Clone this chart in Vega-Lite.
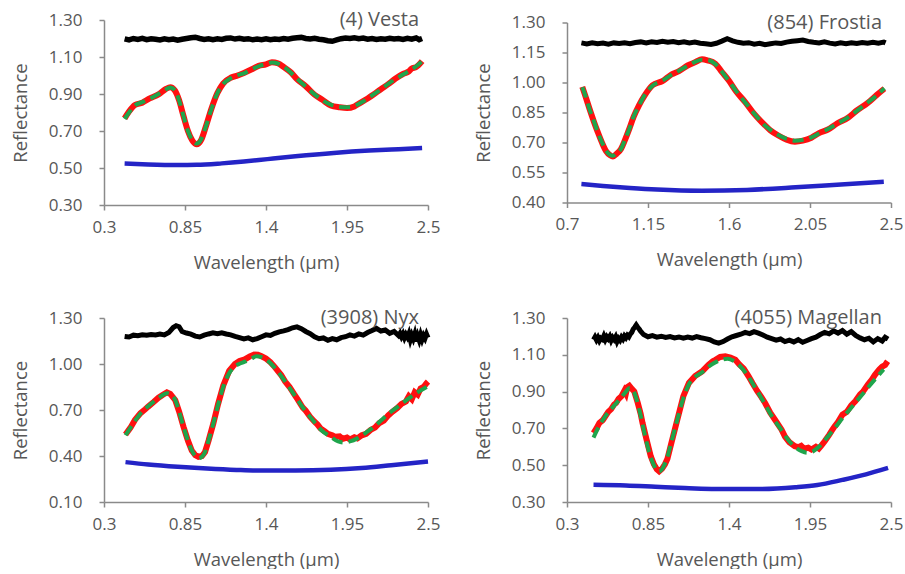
{
  "$schema": "https://vega.github.io/schema/vega-lite/v6.json",
  "background": "white",
  "padding": {"left": 11, "top": 10, "right": 0, "bottom": 0},
  "columns": 2,
  "bounds": "flush",
  "center": true,
  "spacing": {"row": 113, "column": 139},
  "config": {
    "font": "Open Sans",
    "view": {"stroke": null},
    "axis": {
      "grid": false,
      "domainColor": "#8a8a8a",
      "domainWidth": 1.5,
      "tickColor": "#8a8a8a",
      "tickWidth": 1.5,
      "tickSize": 5,
      "labelFont": "Open Sans",
      "labelFontSize": 17,
      "labelColor": "#575757",
      "labelFlush": false,
      "labelOverlap": false,
      "labelExpr": "'' + datum.value",
      "titleFont": "Open Sans",
      "titleFontSize": 18.5,
      "titleFontWeight": "normal",
      "titleColor": "#575757"
    },
    "axisX": {"labelPadding": 9, "titlePadding": 18},
    "axisY": {"labelPadding": 17, "titlePadding": 18},
    "title": {"font": "Open Sans", "fontSize": 20, "fontWeight": "normal", "color": "#575757", "anchor": "end", "frame": "group", "offset": -19, "dx": -9}
  },
  "datasets": {
    "vesta_cont": [
      {"x": 0.44, "y": 0.524}, {"x": 0.6, "y": 0.519}, {"x": 0.8, "y": 0.516}, {"x": 0.93, "y": 0.517},
      {"x": 1.1, "y": 0.525}, {"x": 1.25, "y": 0.535}, {"x": 1.41, "y": 0.548}, {"x": 1.6, "y": 0.563},
      {"x": 1.86, "y": 0.581}, {"x": 2.1, "y": 0.594}, {"x": 2.3, "y": 0.602}, {"x": 2.46, "y": 0.608}
    ],
    "vesta_obs": [
      {"x": 0.44, "y": 0.768}, {"x": 0.47, "y": 0.805}, {"x": 0.51, "y": 0.840}, {"x": 0.56, "y": 0.853},
      {"x": 0.61, "y": 0.876}, {"x": 0.67, "y": 0.898}, {"x": 0.72, "y": 0.927}, {"x": 0.75, "y": 0.937},
      {"x": 0.78, "y": 0.920}, {"x": 0.81, "y": 0.866}, {"x": 0.84, "y": 0.780}, {"x": 0.87, "y": 0.700},
      {"x": 0.9, "y": 0.648}, {"x": 0.93, "y": 0.628}, {"x": 0.96, "y": 0.652}, {"x": 0.99, "y": 0.720},
      {"x": 1.03, "y": 0.822}, {"x": 1.07, "y": 0.905}, {"x": 1.11, "y": 0.958}, {"x": 1.16, "y": 0.988},
      {"x": 1.2, "y": 0.998}, {"x": 1.25, "y": 1.014}, {"x": 1.3, "y": 1.032}, {"x": 1.35, "y": 1.052},
      {"x": 1.4, "y": 1.060}, {"x": 1.44, "y": 1.072}, {"x": 1.48, "y": 1.066}, {"x": 1.52, "y": 1.046},
      {"x": 1.57, "y": 1.016}, {"x": 1.61, "y": 0.981}, {"x": 1.67, "y": 0.942}, {"x": 1.73, "y": 0.896},
      {"x": 1.78, "y": 0.870}, {"x": 1.84, "y": 0.838}, {"x": 1.9, "y": 0.828}, {"x": 1.95, "y": 0.824},
      {"x": 2.0, "y": 0.833}, {"x": 2.04, "y": 0.852}, {"x": 2.09, "y": 0.876}, {"x": 2.13, "y": 0.897},
      {"x": 2.18, "y": 0.926}, {"x": 2.23, "y": 0.953}, {"x": 2.28, "y": 0.984}, {"x": 2.33, "y": 1.008},
      {"x": 2.37, "y": 1.022}, {"x": 2.39, "y": 1.038}, {"x": 2.42, "y": 1.046}, {"x": 2.46, "y": 1.078}
    ],
    "vesta_fit": [
      {"x": 0.44, "y": 0.766}, {"x": 0.47, "y": 0.80}, {"x": 0.51, "y": 0.838}, {"x": 0.56, "y": 0.856},
      {"x": 0.61, "y": 0.874}, {"x": 0.67, "y": 0.900}, {"x": 0.72, "y": 0.925}, {"x": 0.75, "y": 0.935},
      {"x": 0.78, "y": 0.922}, {"x": 0.81, "y": 0.865}, {"x": 0.84, "y": 0.78}, {"x": 0.87, "y": 0.70},
      {"x": 0.9, "y": 0.65}, {"x": 0.93, "y": 0.632}, {"x": 0.96, "y": 0.655}, {"x": 0.99, "y": 0.72},
      {"x": 1.03, "y": 0.82}, {"x": 1.07, "y": 0.905}, {"x": 1.11, "y": 0.955}, {"x": 1.16, "y": 0.985},
      {"x": 1.2, "y": 1.0}, {"x": 1.25, "y": 1.012}, {"x": 1.3, "y": 1.032}, {"x": 1.35, "y": 1.05},
      {"x": 1.4, "y": 1.062}, {"x": 1.44, "y": 1.07}, {"x": 1.48, "y": 1.065}, {"x": 1.52, "y": 1.048},
      {"x": 1.57, "y": 1.015}, {"x": 1.61, "y": 0.983}, {"x": 1.67, "y": 0.94}, {"x": 1.73, "y": 0.898},
      {"x": 1.78, "y": 0.868}, {"x": 1.84, "y": 0.842}, {"x": 1.9, "y": 0.83}, {"x": 1.95, "y": 0.828},
      {"x": 2.0, "y": 0.835}, {"x": 2.04, "y": 0.851}, {"x": 2.09, "y": 0.875}, {"x": 2.13, "y": 0.898},
      {"x": 2.18, "y": 0.925}, {"x": 2.23, "y": 0.955}, {"x": 2.28, "y": 0.982}, {"x": 2.33, "y": 1.005},
      {"x": 2.38, "y": 1.028}, {"x": 2.42, "y": 1.05}, {"x": 2.46, "y": 1.077}
    ],
    "vesta_resid": [
      {"x": 0.44, "y": 1.198}, {"x": 0.47, "y": 1.192}, {"x": 0.5, "y": 1.2}, {"x": 0.53, "y": 1.195},
      {"x": 0.56, "y": 1.201}, {"x": 0.59, "y": 1.194}, {"x": 0.62, "y": 1.199}, {"x": 0.65, "y": 1.196},
      {"x": 0.68, "y": 1.192}, {"x": 0.71, "y": 1.198}, {"x": 0.74, "y": 1.193}, {"x": 0.77, "y": 1.197},
      {"x": 0.8, "y": 1.191}, {"x": 0.83, "y": 1.196}, {"x": 0.86, "y": 1.2}, {"x": 0.89, "y": 1.204},
      {"x": 0.92, "y": 1.207}, {"x": 0.95, "y": 1.2}, {"x": 0.98, "y": 1.195}, {"x": 1.01, "y": 1.199},
      {"x": 1.04, "y": 1.194}, {"x": 1.07, "y": 1.198}, {"x": 1.1, "y": 1.195}, {"x": 1.13, "y": 1.201},
      {"x": 1.16, "y": 1.203}, {"x": 1.19, "y": 1.197}, {"x": 1.22, "y": 1.201}, {"x": 1.25, "y": 1.196},
      {"x": 1.28, "y": 1.199}, {"x": 1.31, "y": 1.193}, {"x": 1.34, "y": 1.197}, {"x": 1.37, "y": 1.194},
      {"x": 1.4, "y": 1.198}, {"x": 1.43, "y": 1.193}, {"x": 1.46, "y": 1.197}, {"x": 1.49, "y": 1.195},
      {"x": 1.52, "y": 1.2}, {"x": 1.55, "y": 1.196}, {"x": 1.58, "y": 1.201}, {"x": 1.61, "y": 1.204},
      {"x": 1.64, "y": 1.206}, {"x": 1.67, "y": 1.2}, {"x": 1.7, "y": 1.197}, {"x": 1.73, "y": 1.201},
      {"x": 1.76, "y": 1.196}, {"x": 1.79, "y": 1.193}, {"x": 1.82, "y": 1.188}, {"x": 1.85, "y": 1.185},
      {"x": 1.88, "y": 1.192}, {"x": 1.91, "y": 1.199}, {"x": 1.94, "y": 1.203}, {"x": 1.97, "y": 1.2},
      {"x": 2.0, "y": 1.204}, {"x": 2.03, "y": 1.199}, {"x": 2.06, "y": 1.202}, {"x": 2.09, "y": 1.196},
      {"x": 2.12, "y": 1.2}, {"x": 2.15, "y": 1.195}, {"x": 2.18, "y": 1.199}, {"x": 2.21, "y": 1.196},
      {"x": 2.24, "y": 1.201}, {"x": 2.27, "y": 1.197}, {"x": 2.3, "y": 1.2}, {"x": 2.33, "y": 1.195},
      {"x": 2.36, "y": 1.201}, {"x": 2.39, "y": 1.196}, {"x": 2.42, "y": 1.203}, {"x": 2.44, "y": 1.194},
      {"x": 2.46, "y": 1.2}
    ],
    "frostia_cont": [
      {"x": 0.78, "y": 0.492}, {"x": 0.9, "y": 0.483}, {"x": 1.05, "y": 0.473}, {"x": 1.2, "y": 0.465},
      {"x": 1.45, "y": 0.459}, {"x": 1.7, "y": 0.463}, {"x": 1.97, "y": 0.476}, {"x": 2.2, "y": 0.489},
      {"x": 2.46, "y": 0.504}
    ],
    "frostia_obs": [
      {"x": 0.785, "y": 0.978}, {"x": 0.8, "y": 0.938}, {"x": 0.825, "y": 0.869}, {"x": 0.85, "y": 0.803},
      {"x": 0.871, "y": 0.752}, {"x": 0.895, "y": 0.698}, {"x": 0.917, "y": 0.657}, {"x": 0.94, "y": 0.636},
      {"x": 0.955, "y": 0.630}, {"x": 0.975, "y": 0.643}, {"x": 1.0, "y": 0.668}, {"x": 1.02, "y": 0.708},
      {"x": 1.046, "y": 0.768}, {"x": 1.07, "y": 0.828}, {"x": 1.1, "y": 0.886}, {"x": 1.13, "y": 0.933},
      {"x": 1.175, "y": 0.986}, {"x": 1.23, "y": 1.007}, {"x": 1.28, "y": 1.040}, {"x": 1.322, "y": 1.057},
      {"x": 1.37, "y": 1.085}, {"x": 1.414, "y": 1.102}, {"x": 1.45, "y": 1.116}, {"x": 1.48, "y": 1.111},
      {"x": 1.524, "y": 1.094}, {"x": 1.56, "y": 1.053}, {"x": 1.598, "y": 1.011}, {"x": 1.64, "y": 0.955},
      {"x": 1.69, "y": 0.902}, {"x": 1.74, "y": 0.843}, {"x": 1.782, "y": 0.802}, {"x": 1.83, "y": 0.761},
      {"x": 1.874, "y": 0.735}, {"x": 1.92, "y": 0.714}, {"x": 1.966, "y": 0.704}, {"x": 2.01, "y": 0.709},
      {"x": 2.058, "y": 0.724}, {"x": 2.1, "y": 0.747}, {"x": 2.15, "y": 0.765}, {"x": 2.2, "y": 0.795},
      {"x": 2.261, "y": 0.824}, {"x": 2.31, "y": 0.860}, {"x": 2.371, "y": 0.898}, {"x": 2.42, "y": 0.937},
      {"x": 2.463, "y": 0.969}
    ],
    "frostia_fit": [
      {"x": 0.785, "y": 0.976}, {"x": 0.8, "y": 0.94}, {"x": 0.825, "y": 0.867}, {"x": 0.85, "y": 0.805},
      {"x": 0.871, "y": 0.751}, {"x": 0.895, "y": 0.7}, {"x": 0.917, "y": 0.659}, {"x": 0.94, "y": 0.638},
      {"x": 0.955, "y": 0.634}, {"x": 0.975, "y": 0.645}, {"x": 1.0, "y": 0.667}, {"x": 1.02, "y": 0.71},
      {"x": 1.046, "y": 0.767}, {"x": 1.07, "y": 0.83}, {"x": 1.1, "y": 0.884}, {"x": 1.13, "y": 0.935},
      {"x": 1.175, "y": 0.984}, {"x": 1.23, "y": 1.009}, {"x": 1.28, "y": 1.038}, {"x": 1.322, "y": 1.059},
      {"x": 1.37, "y": 1.083}, {"x": 1.414, "y": 1.104}, {"x": 1.45, "y": 1.114}, {"x": 1.48, "y": 1.113},
      {"x": 1.524, "y": 1.092}, {"x": 1.56, "y": 1.055}, {"x": 1.598, "y": 1.009}, {"x": 1.64, "y": 0.957},
      {"x": 1.69, "y": 0.9}, {"x": 1.74, "y": 0.845}, {"x": 1.782, "y": 0.8}, {"x": 1.83, "y": 0.763},
      {"x": 1.874, "y": 0.737}, {"x": 1.92, "y": 0.718}, {"x": 1.966, "y": 0.709}, {"x": 2.01, "y": 0.713},
      {"x": 2.058, "y": 0.726}, {"x": 2.1, "y": 0.745}, {"x": 2.15, "y": 0.767}, {"x": 2.2, "y": 0.793},
      {"x": 2.261, "y": 0.826}, {"x": 2.31, "y": 0.858}, {"x": 2.371, "y": 0.9}, {"x": 2.42, "y": 0.935},
      {"x": 2.463, "y": 0.971}
    ],
    "frostia_resid": [
      {"x": 0.78, "y": 1.198}, {"x": 0.81, "y": 1.193}, {"x": 0.84, "y": 1.199}, {"x": 0.87, "y": 1.194},
      {"x": 0.9, "y": 1.197}, {"x": 0.93, "y": 1.192}, {"x": 0.96, "y": 1.198}, {"x": 0.99, "y": 1.195},
      {"x": 1.02, "y": 1.199}, {"x": 1.05, "y": 1.194}, {"x": 1.08, "y": 1.2}, {"x": 1.11, "y": 1.203},
      {"x": 1.14, "y": 1.198}, {"x": 1.17, "y": 1.204}, {"x": 1.2, "y": 1.2}, {"x": 1.23, "y": 1.206},
      {"x": 1.26, "y": 1.201}, {"x": 1.29, "y": 1.205}, {"x": 1.32, "y": 1.199}, {"x": 1.35, "y": 1.204},
      {"x": 1.38, "y": 1.198}, {"x": 1.41, "y": 1.202}, {"x": 1.44, "y": 1.196}, {"x": 1.47, "y": 1.194},
      {"x": 1.5, "y": 1.19}, {"x": 1.53, "y": 1.196}, {"x": 1.56, "y": 1.207}, {"x": 1.59, "y": 1.219},
      {"x": 1.62, "y": 1.208}, {"x": 1.65, "y": 1.201}, {"x": 1.68, "y": 1.196}, {"x": 1.71, "y": 1.199},
      {"x": 1.74, "y": 1.192}, {"x": 1.77, "y": 1.196}, {"x": 1.8, "y": 1.189}, {"x": 1.83, "y": 1.194},
      {"x": 1.86, "y": 1.198}, {"x": 1.89, "y": 1.195}, {"x": 1.92, "y": 1.202}, {"x": 1.95, "y": 1.206},
      {"x": 1.98, "y": 1.209}, {"x": 2.01, "y": 1.212}, {"x": 2.04, "y": 1.205}, {"x": 2.07, "y": 1.201},
      {"x": 2.1, "y": 1.198}, {"x": 2.13, "y": 1.203}, {"x": 2.16, "y": 1.197}, {"x": 2.19, "y": 1.193},
      {"x": 2.22, "y": 1.198}, {"x": 2.25, "y": 1.194}, {"x": 2.28, "y": 1.199}, {"x": 2.31, "y": 1.195},
      {"x": 2.34, "y": 1.2}, {"x": 2.37, "y": 1.196}, {"x": 2.4, "y": 1.201}, {"x": 2.43, "y": 1.197},
      {"x": 2.46, "y": 1.202}, {"x": 2.47, "y": 1.198}
    ],
    "nyx_cont": [
      {"x": 0.446, "y": 0.36}, {"x": 0.6, "y": 0.345}, {"x": 0.8, "y": 0.33}, {"x": 1.0, "y": 0.318},
      {"x": 1.2, "y": 0.309}, {"x": 1.35, "y": 0.305}, {"x": 1.6, "y": 0.305}, {"x": 1.84, "y": 0.31},
      {"x": 2.05, "y": 0.322}, {"x": 2.25, "y": 0.34}, {"x": 2.5, "y": 0.364}
    ],
    "nyx_obs": [
      {"x": 0.446, "y": 0.54}, {"x": 0.48, "y": 0.585}, {"x": 0.51, "y": 0.635}, {"x": 0.548, "y": 0.68},
      {"x": 0.58, "y": 0.705}, {"x": 0.6, "y": 0.722}, {"x": 0.637, "y": 0.752}, {"x": 0.67, "y": 0.78},
      {"x": 0.7, "y": 0.8}, {"x": 0.727, "y": 0.815}, {"x": 0.75, "y": 0.805}, {"x": 0.784, "y": 0.764},
      {"x": 0.81, "y": 0.69}, {"x": 0.84, "y": 0.59}, {"x": 0.87, "y": 0.5}, {"x": 0.896, "y": 0.436},
      {"x": 0.92, "y": 0.405}, {"x": 0.941, "y": 0.395}, {"x": 0.965, "y": 0.4}, {"x": 0.986, "y": 0.426},
      {"x": 1.01, "y": 0.5}, {"x": 1.042, "y": 0.611}, {"x": 1.075, "y": 0.74}, {"x": 1.11, "y": 0.86},
      {"x": 1.15, "y": 0.955}, {"x": 1.189, "y": 1.0}, {"x": 1.22, "y": 1.02}, {"x": 1.256, "y": 1.03},
      {"x": 1.29, "y": 1.05}, {"x": 1.32, "y": 1.062}, {"x": 1.345, "y": 1.06}, {"x": 1.37, "y": 1.05},
      {"x": 1.4, "y": 1.035}, {"x": 1.43, "y": 1.012}, {"x": 1.46, "y": 0.98}, {"x": 1.503, "y": 0.928},
      {"x": 1.53, "y": 0.885}, {"x": 1.56, "y": 0.85}, {"x": 1.59, "y": 0.805}, {"x": 1.616, "y": 0.768},
      {"x": 1.65, "y": 0.715}, {"x": 1.67, "y": 0.695}, {"x": 1.7, "y": 0.655}, {"x": 1.728, "y": 0.625},
      {"x": 1.75, "y": 0.605}, {"x": 1.77, "y": 0.58}, {"x": 1.8, "y": 0.56}, {"x": 1.82, "y": 0.545},
      {"x": 1.85, "y": 0.535}, {"x": 1.87, "y": 0.525}, {"x": 1.9, "y": 0.528}, {"x": 1.92, "y": 0.512},
      {"x": 1.95, "y": 0.52}, {"x": 1.97, "y": 0.508}, {"x": 2.0, "y": 0.522}, {"x": 2.02, "y": 0.515},
      {"x": 2.05, "y": 0.535}, {"x": 2.08, "y": 0.545}, {"x": 2.11, "y": 0.57}, {"x": 2.14, "y": 0.585},
      {"x": 2.17, "y": 0.615}, {"x": 2.2, "y": 0.63}, {"x": 2.23, "y": 0.665}, {"x": 2.26, "y": 0.69},
      {"x": 2.29, "y": 0.712}, {"x": 2.32, "y": 0.74}, {"x": 2.35, "y": 0.755}, {"x": 2.37, "y": 0.79},
      {"x": 2.39, "y": 0.77}, {"x": 2.41, "y": 0.815}, {"x": 2.43, "y": 0.8}, {"x": 2.45, "y": 0.84},
      {"x": 2.47, "y": 0.85}, {"x": 2.49, "y": 0.875}, {"x": 2.5, "y": 0.885}
    ],
    "nyx_fit": [
      {"x": 0.446, "y": 0.535}, {"x": 0.49, "y": 0.6}, {"x": 0.548, "y": 0.677}, {"x": 0.6, "y": 0.725},
      {"x": 0.637, "y": 0.754}, {"x": 0.68, "y": 0.785}, {"x": 0.727, "y": 0.81}, {"x": 0.755, "y": 0.8},
      {"x": 0.784, "y": 0.764}, {"x": 0.81, "y": 0.69}, {"x": 0.84, "y": 0.59}, {"x": 0.87, "y": 0.5},
      {"x": 0.896, "y": 0.436}, {"x": 0.92, "y": 0.4}, {"x": 0.941, "y": 0.385}, {"x": 0.965, "y": 0.395},
      {"x": 0.986, "y": 0.426}, {"x": 1.01, "y": 0.5}, {"x": 1.042, "y": 0.611}, {"x": 1.075, "y": 0.735},
      {"x": 1.11, "y": 0.852}, {"x": 1.15, "y": 0.94}, {"x": 1.189, "y": 0.985}, {"x": 1.22, "y": 1.002},
      {"x": 1.256, "y": 1.015}, {"x": 1.3, "y": 1.035}, {"x": 1.334, "y": 1.05}, {"x": 1.37, "y": 1.045},
      {"x": 1.413, "y": 1.02}, {"x": 1.46, "y": 0.975}, {"x": 1.503, "y": 0.922}, {"x": 1.56, "y": 0.845},
      {"x": 1.616, "y": 0.764}, {"x": 1.67, "y": 0.69}, {"x": 1.728, "y": 0.622}, {"x": 1.78, "y": 0.565},
      {"x": 1.84, "y": 0.525}, {"x": 1.89, "y": 0.495}, {"x": 1.93, "y": 0.488}, {"x": 1.97, "y": 0.495},
      {"x": 2.02, "y": 0.515}, {"x": 2.08, "y": 0.553}, {"x": 2.133, "y": 0.59}, {"x": 2.19, "y": 0.64},
      {"x": 2.245, "y": 0.685}, {"x": 2.3, "y": 0.725}, {"x": 2.358, "y": 0.768}, {"x": 2.42, "y": 0.81},
      {"x": 2.5, "y": 0.855}
    ],
    "nyx_resid": [
      {"x": 0.44, "y": 1.18}, {"x": 0.47, "y": 1.176}, {"x": 0.5, "y": 1.188}, {"x": 0.53, "y": 1.184},
      {"x": 0.56, "y": 1.191}, {"x": 0.59, "y": 1.187}, {"x": 0.62, "y": 1.192}, {"x": 0.65, "y": 1.189},
      {"x": 0.68, "y": 1.195}, {"x": 0.71, "y": 1.19}, {"x": 0.74, "y": 1.205}, {"x": 0.77, "y": 1.238},
      {"x": 0.79, "y": 1.25}, {"x": 0.81, "y": 1.243}, {"x": 0.83, "y": 1.212}, {"x": 0.86, "y": 1.202},
      {"x": 0.89, "y": 1.195}, {"x": 0.92, "y": 1.182}, {"x": 0.95, "y": 1.176}, {"x": 0.98, "y": 1.188},
      {"x": 1.01, "y": 1.196}, {"x": 1.04, "y": 1.203}, {"x": 1.07, "y": 1.198}, {"x": 1.1, "y": 1.204},
      {"x": 1.13, "y": 1.196}, {"x": 1.16, "y": 1.19}, {"x": 1.19, "y": 1.18}, {"x": 1.22, "y": 1.172},
      {"x": 1.25, "y": 1.163}, {"x": 1.28, "y": 1.17}, {"x": 1.31, "y": 1.158}, {"x": 1.34, "y": 1.166},
      {"x": 1.37, "y": 1.178}, {"x": 1.4, "y": 1.19}, {"x": 1.43, "y": 1.186}, {"x": 1.46, "y": 1.2},
      {"x": 1.49, "y": 1.21}, {"x": 1.52, "y": 1.216}, {"x": 1.55, "y": 1.224}, {"x": 1.58, "y": 1.236},
      {"x": 1.61, "y": 1.242}, {"x": 1.64, "y": 1.23}, {"x": 1.67, "y": 1.212}, {"x": 1.7, "y": 1.198},
      {"x": 1.73, "y": 1.178}, {"x": 1.76, "y": 1.165}, {"x": 1.79, "y": 1.17}, {"x": 1.82, "y": 1.155},
      {"x": 1.85, "y": 1.166}, {"x": 1.88, "y": 1.158}, {"x": 1.91, "y": 1.172}, {"x": 1.94, "y": 1.178},
      {"x": 1.97, "y": 1.19}, {"x": 2.0, "y": 1.182}, {"x": 2.03, "y": 1.196}, {"x": 2.06, "y": 1.188},
      {"x": 2.09, "y": 1.205}, {"x": 2.12, "y": 1.218}, {"x": 2.15, "y": 1.232}, {"x": 2.18, "y": 1.215},
      {"x": 2.21, "y": 1.222}, {"x": 2.24, "y": 1.2}, {"x": 2.27, "y": 1.212}, {"x": 2.3, "y": 1.185},
      {"x": 2.31, "y": 1.2}, {"x": 2.32, "y": 1.178}, {"x": 2.33, "y": 1.196}, {"x": 2.34, "y": 1.17},
      {"x": 2.35, "y": 1.192}, {"x": 2.36, "y": 1.175}, {"x": 2.37, "y": 1.198}, {"x": 2.38, "y": 1.158},
      {"x": 2.39, "y": 1.188}, {"x": 2.4, "y": 1.165}, {"x": 2.41, "y": 1.195}, {"x": 2.42, "y": 1.148},
      {"x": 2.43, "y": 1.182}, {"x": 2.44, "y": 1.155}, {"x": 2.45, "y": 1.19}, {"x": 2.46, "y": 1.16},
      {"x": 2.47, "y": 1.186}, {"x": 2.48, "y": 1.168}, {"x": 2.49, "y": 1.195}, {"x": 2.5, "y": 1.172}
    ],
    "magellan_cont": [
      {"x": 0.48, "y": 0.394}, {"x": 0.7, "y": 0.39}, {"x": 0.9, "y": 0.383}, {"x": 1.1, "y": 0.376},
      {"x": 1.39, "y": 0.37}, {"x": 1.6, "y": 0.37}, {"x": 1.85, "y": 0.38}, {"x": 2.0, "y": 0.392},
      {"x": 2.17, "y": 0.42}, {"x": 2.33, "y": 0.45}, {"x": 2.48, "y": 0.485}
    ],
    "magellan_obs": [
      {"x": 0.48, "y": 0.675}, {"x": 0.5, "y": 0.7}, {"x": 0.52, "y": 0.73}, {"x": 0.543, "y": 0.745},
      {"x": 0.56, "y": 0.765}, {"x": 0.58, "y": 0.79}, {"x": 0.6, "y": 0.805}, {"x": 0.62, "y": 0.83},
      {"x": 0.633, "y": 0.838}, {"x": 0.65, "y": 0.86}, {"x": 0.67, "y": 0.875}, {"x": 0.69, "y": 0.905},
      {"x": 0.7, "y": 0.89}, {"x": 0.71, "y": 0.925}, {"x": 0.723, "y": 0.932}, {"x": 0.74, "y": 0.915},
      {"x": 0.757, "y": 0.9}, {"x": 0.78, "y": 0.84}, {"x": 0.8, "y": 0.78}, {"x": 0.813, "y": 0.729},
      {"x": 0.84, "y": 0.64}, {"x": 0.869, "y": 0.548}, {"x": 0.89, "y": 0.505}, {"x": 0.91, "y": 0.478},
      {"x": 0.926, "y": 0.467}, {"x": 0.945, "y": 0.48}, {"x": 0.965, "y": 0.505}, {"x": 0.982, "y": 0.535},
      {"x": 1.01, "y": 0.625}, {"x": 1.049, "y": 0.747}, {"x": 1.09, "y": 0.875}, {"x": 1.128, "y": 0.947},
      {"x": 1.17, "y": 0.985}, {"x": 1.218, "y": 1.01}, {"x": 1.26, "y": 1.045}, {"x": 1.29, "y": 1.065},
      {"x": 1.308, "y": 1.073}, {"x": 1.34, "y": 1.088}, {"x": 1.375, "y": 1.092}, {"x": 1.41, "y": 1.085},
      {"x": 1.443, "y": 1.073}, {"x": 1.47, "y": 1.048}, {"x": 1.5, "y": 1.025}, {"x": 1.533, "y": 0.983},
      {"x": 1.56, "y": 0.945}, {"x": 1.59, "y": 0.905}, {"x": 1.62, "y": 0.87}, {"x": 1.645, "y": 0.838},
      {"x": 1.68, "y": 0.785}, {"x": 1.71, "y": 0.75}, {"x": 1.757, "y": 0.693}, {"x": 1.78, "y": 0.655},
      {"x": 1.81, "y": 0.625}, {"x": 1.847, "y": 0.603}, {"x": 1.87, "y": 0.598}, {"x": 1.89, "y": 0.605},
      {"x": 1.91, "y": 0.59}, {"x": 1.938, "y": 0.595}, {"x": 1.96, "y": 0.585}, {"x": 1.99, "y": 0.6},
      {"x": 2.01, "y": 0.59}, {"x": 2.027, "y": 0.606}, {"x": 2.05, "y": 0.63}, {"x": 2.08, "y": 0.665},
      {"x": 2.1, "y": 0.69}, {"x": 2.117, "y": 0.711}, {"x": 2.14, "y": 0.735}, {"x": 2.17, "y": 0.775},
      {"x": 2.2, "y": 0.79}, {"x": 2.23, "y": 0.825}, {"x": 2.26, "y": 0.85}, {"x": 2.29, "y": 0.885},
      {"x": 2.31, "y": 0.9}, {"x": 2.342, "y": 0.937}, {"x": 2.37, "y": 0.965}, {"x": 2.39, "y": 0.99},
      {"x": 2.42, "y": 1.02}, {"x": 2.44, "y": 1.035}, {"x": 2.46, "y": 1.045}, {"x": 2.477, "y": 1.065}
    ],
    "magellan_fit": [
      {"x": 0.48, "y": 0.65}, {"x": 0.52, "y": 0.715}, {"x": 0.56, "y": 0.765}, {"x": 0.6, "y": 0.805},
      {"x": 0.633, "y": 0.835}, {"x": 0.67, "y": 0.87}, {"x": 0.7, "y": 0.9}, {"x": 0.725, "y": 0.92},
      {"x": 0.745, "y": 0.912}, {"x": 0.77, "y": 0.865}, {"x": 0.8, "y": 0.77}, {"x": 0.83, "y": 0.66},
      {"x": 0.86, "y": 0.565}, {"x": 0.89, "y": 0.5}, {"x": 0.915, "y": 0.468}, {"x": 0.935, "y": 0.47},
      {"x": 0.96, "y": 0.5}, {"x": 0.982, "y": 0.545}, {"x": 1.01, "y": 0.63}, {"x": 1.049, "y": 0.747},
      {"x": 1.09, "y": 0.865}, {"x": 1.128, "y": 0.94}, {"x": 1.17, "y": 0.98}, {"x": 1.218, "y": 1.005},
      {"x": 1.26, "y": 1.035}, {"x": 1.31, "y": 1.06}, {"x": 1.36, "y": 1.075}, {"x": 1.39, "y": 1.078},
      {"x": 1.43, "y": 1.068}, {"x": 1.48, "y": 1.035}, {"x": 1.533, "y": 0.98}, {"x": 1.59, "y": 0.905},
      {"x": 1.645, "y": 0.83}, {"x": 1.7, "y": 0.755}, {"x": 1.757, "y": 0.69}, {"x": 1.8, "y": 0.64},
      {"x": 1.847, "y": 0.6}, {"x": 1.89, "y": 0.578}, {"x": 1.93, "y": 0.567}, {"x": 1.97, "y": 0.575},
      {"x": 2.01, "y": 0.6}, {"x": 2.06, "y": 0.645}, {"x": 2.117, "y": 0.7}, {"x": 2.17, "y": 0.755},
      {"x": 2.23, "y": 0.812}, {"x": 2.29, "y": 0.87}, {"x": 2.342, "y": 0.92}, {"x": 2.4, "y": 0.975},
      {"x": 2.45, "y": 1.02}
    ],
    "magellan_resid": [
      {"x": 0.48, "y": 1.182}, {"x": 0.49, "y": 1.196}, {"x": 0.5, "y": 1.18}, {"x": 0.51, "y": 1.194},
      {"x": 0.52, "y": 1.176}, {"x": 0.53, "y": 1.19}, {"x": 0.54, "y": 1.184}, {"x": 0.55, "y": 1.202},
      {"x": 0.56, "y": 1.182}, {"x": 0.57, "y": 1.198}, {"x": 0.58, "y": 1.187}, {"x": 0.59, "y": 1.2},
      {"x": 0.6, "y": 1.178}, {"x": 0.61, "y": 1.194}, {"x": 0.62, "y": 1.183}, {"x": 0.63, "y": 1.197},
      {"x": 0.64, "y": 1.172}, {"x": 0.65, "y": 1.189}, {"x": 0.66, "y": 1.179}, {"x": 0.67, "y": 1.196},
      {"x": 0.68, "y": 1.185}, {"x": 0.69, "y": 1.202}, {"x": 0.7, "y": 1.192}, {"x": 0.71, "y": 1.206},
      {"x": 0.72, "y": 1.198}, {"x": 0.73, "y": 1.213}, {"x": 0.74, "y": 1.222}, {"x": 0.75, "y": 1.24},
      {"x": 0.76, "y": 1.25}, {"x": 0.77, "y": 1.262}, {"x": 0.78, "y": 1.25}, {"x": 0.79, "y": 1.24},
      {"x": 0.8, "y": 1.228}, {"x": 0.82, "y": 1.21}, {"x": 0.85, "y": 1.198}, {"x": 0.88, "y": 1.204},
      {"x": 0.91, "y": 1.196}, {"x": 0.94, "y": 1.201}, {"x": 0.97, "y": 1.194}, {"x": 1.0, "y": 1.199},
      {"x": 1.03, "y": 1.192}, {"x": 1.06, "y": 1.197}, {"x": 1.09, "y": 1.19}, {"x": 1.12, "y": 1.196},
      {"x": 1.15, "y": 1.191}, {"x": 1.18, "y": 1.199}, {"x": 1.21, "y": 1.193}, {"x": 1.24, "y": 1.188},
      {"x": 1.27, "y": 1.182}, {"x": 1.3, "y": 1.17}, {"x": 1.33, "y": 1.163}, {"x": 1.36, "y": 1.172},
      {"x": 1.39, "y": 1.186}, {"x": 1.42, "y": 1.198}, {"x": 1.45, "y": 1.205}, {"x": 1.48, "y": 1.212},
      {"x": 1.51, "y": 1.222}, {"x": 1.54, "y": 1.215}, {"x": 1.57, "y": 1.226}, {"x": 1.6, "y": 1.218},
      {"x": 1.63, "y": 1.208}, {"x": 1.66, "y": 1.196}, {"x": 1.69, "y": 1.188}, {"x": 1.72, "y": 1.18},
      {"x": 1.75, "y": 1.186}, {"x": 1.78, "y": 1.172}, {"x": 1.81, "y": 1.18}, {"x": 1.84, "y": 1.17},
      {"x": 1.87, "y": 1.182}, {"x": 1.9, "y": 1.168}, {"x": 1.93, "y": 1.178}, {"x": 1.96, "y": 1.188},
      {"x": 1.99, "y": 1.196}, {"x": 2.02, "y": 1.21}, {"x": 2.05, "y": 1.222}, {"x": 2.08, "y": 1.214},
      {"x": 2.11, "y": 1.23}, {"x": 2.14, "y": 1.218}, {"x": 2.17, "y": 1.232}, {"x": 2.2, "y": 1.212},
      {"x": 2.23, "y": 1.226}, {"x": 2.26, "y": 1.205}, {"x": 2.29, "y": 1.192}, {"x": 2.32, "y": 1.182},
      {"x": 2.35, "y": 1.19}, {"x": 2.38, "y": 1.17}, {"x": 2.41, "y": 1.188}, {"x": 2.44, "y": 1.175},
      {"x": 2.46, "y": 1.195}, {"x": 2.48, "y": 1.185}
    ]
  },
  "concat": [
    {
      "width": 324, "height": 185,
      "title": {"text": "(4) Vesta"},
      "encoding": {
        "x": {"field": "x", "type": "quantitative", "scale": {"domain": [0.3, 2.5], "nice": false, "zero": false},
              "axis": {"values": [0.3, 0.85, 1.4, 1.95, 2.5], "title": "Wavelength (μm)"}},
        "y": {"field": "y", "type": "quantitative", "scale": {"domain": [0.3, 1.3], "nice": false, "zero": false},
              "axis": {"values": [0.3, 0.5, 0.7, 0.9, 1.1, 1.3], "format": ".2f", "labelExpr": "datum.label", "title": "Reflectance"}}
      },
      "layer": [
        {"data": {"name": "vesta_cont"}, "mark": {"type": "line", "color": "#2424c6", "strokeWidth": 4.5, "interpolate": "monotone"}},
        {"data": {"name": "vesta_obs"}, "mark": {"type": "line", "color": "#ff1010", "strokeWidth": 6, "interpolate": "monotone"}},
        {"data": {"name": "vesta_fit"}, "mark": {"type": "line", "color": "#1fa54c", "strokeWidth": 4, "strokeDash": [11, 6], "interpolate": "monotone"}},
        {"data": {"name": "vesta_resid"}, "mark": {"type": "line", "color": "#000000", "strokeWidth": 5.5}}
      ]
    },
    {
      "width": 324, "height": 180,
      "title": {"text": "(854) Frostia"},
      "encoding": {
        "x": {"field": "x", "type": "quantitative", "scale": {"domain": [0.7, 2.5], "nice": false, "zero": false},
              "axis": {"values": [0.7, 1.15, 1.6, 2.05, 2.5], "title": "Wavelength (μm)"}},
        "y": {"field": "y", "type": "quantitative", "scale": {"domain": [0.4, 1.3], "nice": false, "zero": false},
              "axis": {"values": [0.4, 0.55, 0.7, 0.85, 1.0, 1.15, 1.3], "format": ".2f", "labelExpr": "datum.label", "title": "Reflectance"}}
      },
      "layer": [
        {"data": {"name": "frostia_cont"}, "mark": {"type": "line", "color": "#2424c6", "strokeWidth": 4.5, "interpolate": "monotone"}},
        {"data": {"name": "frostia_obs"}, "mark": {"type": "line", "color": "#ff1010", "strokeWidth": 6, "interpolate": "monotone"}},
        {"data": {"name": "frostia_fit"}, "mark": {"type": "line", "color": "#1fa54c", "strokeWidth": 4, "strokeDash": [11, 6], "interpolate": "monotone"}},
        {"data": {"name": "frostia_resid"}, "mark": {"type": "line", "color": "#000000", "strokeWidth": 5}}
      ]
    },
    {
      "width": 324, "height": 184,
      "title": {"text": "(3908) Nyx"},
      "encoding": {
        "x": {"field": "x", "type": "quantitative", "scale": {"domain": [0.3, 2.5], "nice": false, "zero": false},
              "axis": {"values": [0.3, 0.85, 1.4, 1.95, 2.5], "title": "Wavelength (μm)"}},
        "y": {"field": "y", "type": "quantitative", "scale": {"domain": [0.1, 1.3], "nice": false, "zero": false},
              "axis": {"values": [0.1, 0.4, 0.7, 1.0, 1.3], "format": ".2f", "labelExpr": "datum.label", "title": "Reflectance"}}
      },
      "layer": [
        {"data": {"name": "nyx_cont"}, "mark": {"type": "line", "color": "#2424c6", "strokeWidth": 4.5, "interpolate": "monotone"}},
        {"data": {"name": "nyx_obs"}, "mark": {"type": "line", "color": "#ff1010", "strokeWidth": 6}},
        {"data": {"name": "nyx_fit"}, "mark": {"type": "line", "color": "#1fa54c", "strokeWidth": 4, "strokeDash": [11, 6], "interpolate": "monotone"}},
        {"data": {"name": "nyx_resid"}, "mark": {"type": "line", "color": "#000000", "strokeWidth": 5}}
      ]
    },
    {
      "width": 324, "height": 184,
      "title": {"text": "(4055) Magellan"},
      "encoding": {
        "x": {"field": "x", "type": "quantitative", "scale": {"domain": [0.3, 2.5], "nice": false, "zero": false},
              "axis": {"values": [0.3, 0.85, 1.4, 1.95, 2.5], "title": "Wavelength (μm)"}},
        "y": {"field": "y", "type": "quantitative", "scale": {"domain": [0.3, 1.3], "nice": false, "zero": false},
              "axis": {"values": [0.3, 0.5, 0.7, 0.9, 1.1, 1.3], "format": ".2f", "labelExpr": "datum.label", "title": "Reflectance"}}
      },
      "layer": [
        {"data": {"name": "magellan_cont"}, "mark": {"type": "line", "color": "#2424c6", "strokeWidth": 4.5, "interpolate": "monotone"}},
        {"data": {"name": "magellan_obs"}, "mark": {"type": "line", "color": "#ff1010", "strokeWidth": 6}},
        {"data": {"name": "magellan_fit"}, "mark": {"type": "line", "color": "#1fa54c", "strokeWidth": 4, "strokeDash": [11, 6], "interpolate": "monotone"}},
        {"data": {"name": "magellan_resid"}, "mark": {"type": "line", "color": "#000000", "strokeWidth": 5}}
      ]
    }
  ]
}
